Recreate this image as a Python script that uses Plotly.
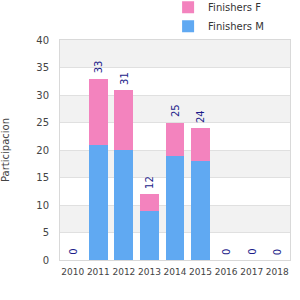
import plotly.graph_objects as go

years = ["2010", "2011", "2012", "2013", "2014", "2015", "2016", "2017", "2018"]
finishers_m = [0, 21, 20, 9, 19, 18, 0, 0, 0]
finishers_f = [0, 12, 11, 3, 6, 6, 0, 0, 0]
totals = [m + f for m, f in zip(finishers_m, finishers_f)]
y_ticks = [0, 5, 10, 15, 20, 25, 30, 35, 40]

FONT = "DejaVu Sans"

fig = go.Figure()
fig.add_trace(go.Bar(x=years, y=finishers_m, name="Finishers M",
                     marker=dict(color="#60A9F2", line=dict(width=0))))
fig.add_trace(go.Bar(x=years, y=finishers_f, name="Finishers F",
                     marker=dict(color="#F383BE", line=dict(width=0))))

for idx, t in enumerate(totals):
    fig.add_annotation(x=idx, y=t, text=str(t), textangle=-90, showarrow=False,
                       xref="x", yref="y",
                       yanchor="bottom", xanchor="center", yshift=3,
                       font=dict(family=FONT, size=10, color="#1c1c8a"))

# alternating background bands
for i in range(0, len(y_ticks) - 1):
    if i % 2 == 1:
        fig.add_shape(type="rect", xref="paper", yref="y", x0=0, x1=1,
                      y0=y_ticks[i], y1=y_ticks[i + 1],
                      fillcolor="#f2f2f2", line=dict(width=0), layer="below")

fig.update_layout(
    width=300, height=300,
    margin=dict(l=60, r=10, t=40, b=40, autoexpand=False),
    barmode="stack", bargap=0.26,
    plot_bgcolor="white", paper_bgcolor="white",
    font=dict(family=FONT, size=10, color="#444"),
    showlegend=True,
    legend=dict(x=0.47, y=1.215, xref="paper", yref="paper",
                xanchor="left", yanchor="top", traceorder="reversed",
                font=dict(family=FONT, size=10, color="#333"),
                bgcolor="rgba(0,0,0,0)", itemwidth=30, tracegroupgap=0),
    xaxis=dict(type="category", categoryorder="array", categoryarray=years,
               range=[-0.5, len(years) - 0.5], tickangle=0,
               tickfont=dict(size=9, color="#444"), ticklabelstandoff=3,
               showline=True, linecolor="#d9d9d9", linewidth=1, mirror=True,
               ticks="", showgrid=False),
    yaxis=dict(range=[0, 40], tickvals=y_ticks, tickfont=dict(size=10, color="#444"),
               ticklabelstandoff=8,
               showline=True, linecolor="#d9d9d9", linewidth=1, mirror=True,
               gridcolor="#e0e0e0", zeroline=False, ticks="",
               title=dict(text="Participacion", font=dict(size=10, color="#444"),
                          standoff=24)),
)

fig.write_html("out.html")
